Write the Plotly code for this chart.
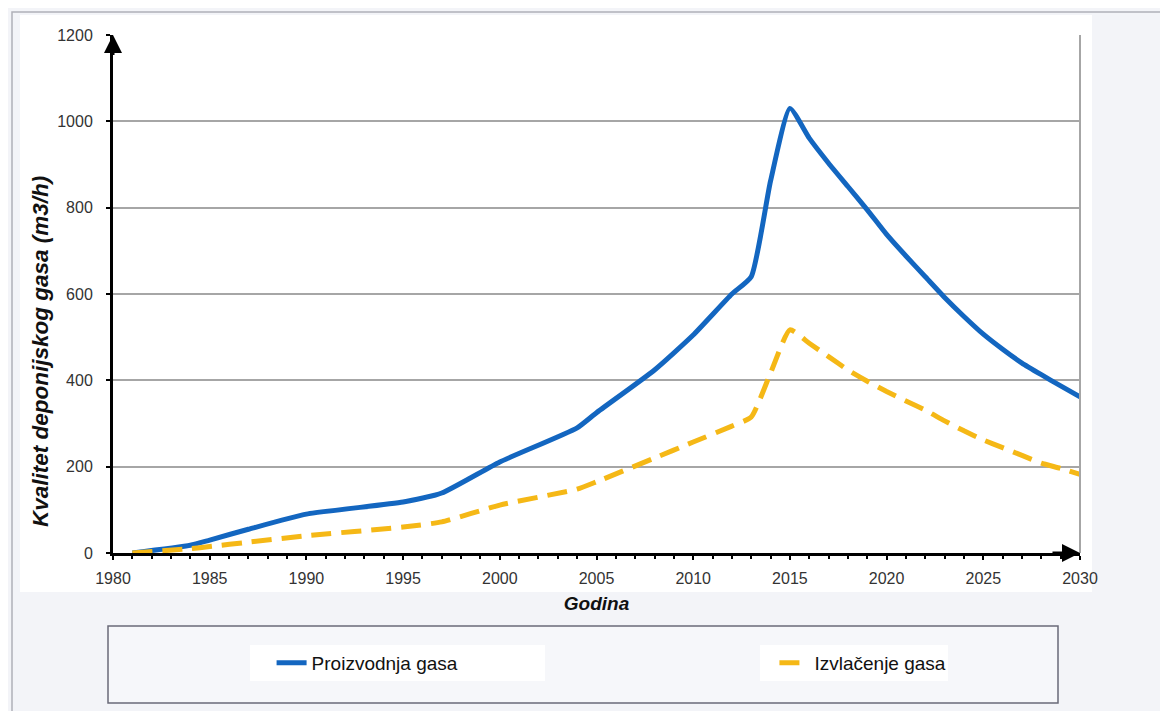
import plotly.graph_objects as go

years = [1981, 1984, 1985, 1987, 1990, 1995, 1997, 2000, 2004, 2005, 2008, 2010, 2012, 2013, 2014, 2015,
         2016, 2017, 2018, 2019, 2020, 2021, 2022, 2023, 2024, 2025, 2026, 2027, 2028, 2029, 2030]
proizvodnja = [0, 18, 30, 55, 90, 118, 139, 211, 290, 325, 424, 505, 600, 640, 862, 1030,
               961, 903, 849, 795, 738, 688, 640, 592, 548, 507, 472, 440, 413, 387, 362]
izvlacenje = [0, 10, 15, 25, 40, 60, 72, 111, 148, 165, 220, 257, 294, 315, 417, 517,
              486, 455, 424, 398, 374, 352, 331, 306, 283, 262, 244, 226, 208, 196, 182]

y_ticks = [0, 200, 400, 600, 800, 1000, 1200]
x_ticks = [1980, 1985, 1990, 1995, 2000, 2005, 2010, 2015, 2020, 2025, 2030]

fig = go.Figure()
fig.add_trace(go.Scatter(x=years, y=proizvodnja, name="Proizvodnja gasa", mode="lines", legend="legend",
                         line=dict(color="#1366c0", width=5, shape="spline", smoothing=0.5)))
fig.add_trace(go.Scatter(x=years, y=izvlacenje, name="Izvlačenje gasa", mode="lines", legend="legend2",
                         line=dict(color="#f5b816", width=5, dash="20px,10px", shape="spline", smoothing=0.5)))

legend_font = dict(size=19, family="Liberation Sans Narrow, Liberation Sans, Arial", color="#111111")

fig.update_layout(
    width=1160, height=703,
    margin=dict(l=105, r=88, t=27, b=158, autoexpand=False),
    paper_bgcolor="#f3f4f8",
    plot_bgcolor="white",
    font=dict(family="Liberation Sans, Arial", color="#333333"),
    xaxis=dict(range=[1980, 2030], tickvals=x_ticks, showgrid=False, zeroline=False,
               showline=True, linecolor="black", linewidth=3,
               ticks="outside", ticklen=4, tickcolor="black", tickwidth=2, ticklabelstandoff=5,
               minor=dict(dtick=1, ticks="outside", ticklen=3, tickcolor="black", tickwidth=1.5),
               tickfont=dict(size=16, color="#333333"),
               title=dict(text="<b><i>Godina</i></b>", font=dict(size=19, color="#111111"), standoff=11)),
    yaxis=dict(range=[0, 1200], tickvals=y_ticks, showgrid=True, gridcolor="#a6a6a6", gridwidth=2,
               zeroline=False, showline=True, linecolor="black", linewidth=3,
               ticks="outside", ticklen=4, tickcolor="black", tickwidth=2, ticklabelstandoff=10,
               tickfont=dict(size=16, color="#333333")),
    legend=dict(orientation="h", x=0.164, y=-0.212, xanchor="left", yanchor="middle",
                bgcolor="rgba(0,0,0,0)", font=legend_font),
    legend2=dict(orientation="h", x=0.684, y=-0.212, xanchor="left", yanchor="middle",
                 bgcolor="rgba(0,0,0,0)", font=legend_font),
    showlegend=True,
)

def px_x(p):
    return (p - 113) / 967.0

def px_y(p):
    return (553 - p) / 518.0

shapes = [
    dict(type="rect", xref="paper", yref="paper", x0=px_x(20), x1=px_x(1092), y0=px_y(592), y1=px_y(15),
         fillcolor="white", line=dict(width=0), layer="below"),
    dict(type="rect", xref="paper", yref="paper", x0=px_x(12), x1=px_x(1190), y0=px_y(720), y1=px_y(12),
         fillcolor="rgba(0,0,0,0)", line=dict(color="#b0b0b8", width=1.5), layer="below"),
    dict(type="rect", xref="paper", yref="paper", x0=px_x(108), x1=px_x(1058), y0=px_y(703), y1=px_y(626),
         fillcolor="#f6f7fa", line=dict(color="#6a6a78", width=1.5), layer="below"),
    dict(type="rect", xref="paper", yref="paper", x0=px_x(250), x1=px_x(545), y0=px_y(681), y1=px_y(645),
         fillcolor="white", line=dict(width=0), layer="below"),
    dict(type="rect", xref="paper", yref="paper", x0=px_x(760), x1=px_x(948), y0=px_y(681), y1=px_y(645),
         fillcolor="white", line=dict(width=0), layer="below"),
    dict(type="line", xref="paper", yref="paper", x0=1, x1=1, y0=0, y1=1,
         line=dict(color="#a6a6a6", width=2)),
]
fig.update_layout(shapes=shapes)

fig.add_annotation(x=px_x(40), y=px_y(352), xref="paper", yref="paper", textangle=-90,
                   text="<b><i>Kvalitet deponijskog gasa (m3/h)</i></b>", showarrow=False,
                   font=dict(size=22.5, color="#111111"), xanchor="center", yanchor="middle")

fig.add_annotation(x=2030, y=0, ax=2028.5, ay=0, xref="x", yref="y", axref="x", ayref="y",
                   text="", showarrow=True, arrowhead=2, arrowsize=1.2, arrowwidth=3, arrowcolor="black")
fig.add_annotation(x=1980, y=1200, ax=1980, ay=1150, xref="x", yref="y", axref="x", ayref="y",
                   text="", showarrow=True, arrowhead=2, arrowsize=1.2, arrowwidth=3, arrowcolor="black")

fig.write_html("out.html")
